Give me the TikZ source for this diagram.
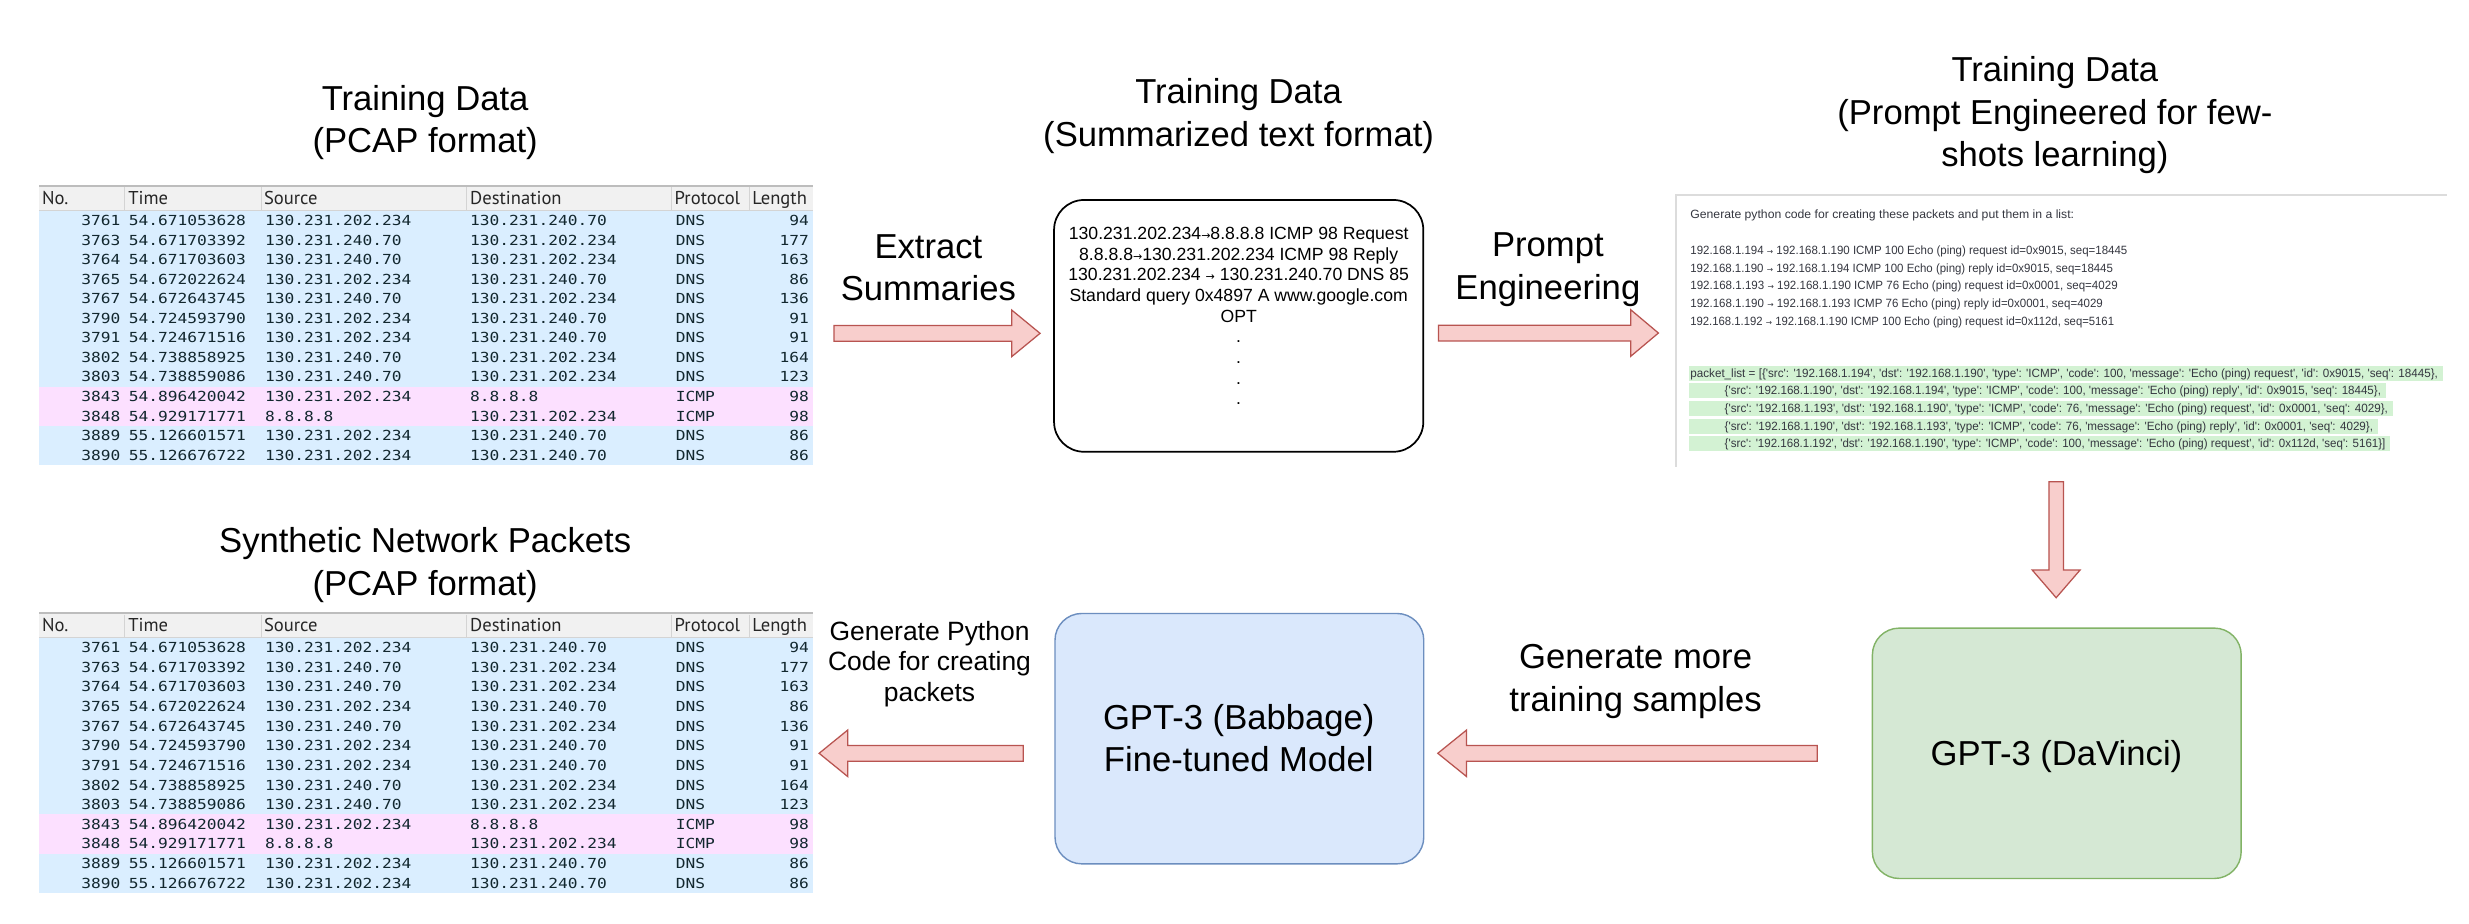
\documentclass[tikz,border=0pt]{standalone}
\usepackage{fontspec}
\usepackage{graphicx}
\setmainfont{Liberation Sans}
\newfontfamily\wsmono[FakeStretch=1.17]{DejaVu Sans Mono}
\newfontfamily\wshead{PT Sans}
\newfontfamily\prfont{Liberation Sans}
\newfontfamily\arrowfont{DejaVu Sans}
\definecolor{dnsbg}{HTML}{DAEEFF}
\definecolor{icmpbg}{HTML}{FCE0FF}
\definecolor{wstext}{HTML}{12272E}
\definecolor{hdrbg}{HTML}{F1F1F1}
\definecolor{hdrline}{HTML}{BDBDBD}
\definecolor{hdrsep}{HTML}{D4D4D4}
\definecolor{arrowfill}{HTML}{F8CECC}
\definecolor{arrowdraw}{HTML}{B85450}
\definecolor{babfill}{HTML}{DAE8FC}
\definecolor{babdraw}{HTML}{6C8EBF}
\definecolor{davfill}{HTML}{D5E8D4}
\definecolor{davdraw}{HTML}{82B366}
\definecolor{prgreen}{HTML}{D3F2D3}
\definecolor{prtext}{HTML}{353740}
\definecolor{prborder}{HTML}{DCDCDC}
\newcommand\arw{{\arrowfont\fontsize{7}{8}\selectfont →}}
\newcommand\parw{{\arrowfont\fontsize{5}{5}\selectfont →}}
\newcommand\fitw[2]{\resizebox{#1pt}{\height}{#2}}
\newcommand\blockarrow[4]{%
  \draw[blk] (#1,#4-5) -- (#2,#4-5) -- (#2,#4-14.8) -- (#3,#4) -- (#2,#4+14.8) -- (#2,#4+5) -- (#1,#4+5) -- cycle;}
\def\wsrows{3761/54.671053628/130.231.202.234/130.231.240.70/DNS/94/dnsbg,
3763/54.671703392/130.231.240.70/130.231.202.234/DNS/177/dnsbg,
3764/54.671703603/130.231.240.70/130.231.202.234/DNS/163/dnsbg,
3765/54.672022624/130.231.202.234/130.231.240.70/DNS/86/dnsbg,
3767/54.672643745/130.231.240.70/130.231.202.234/DNS/136/dnsbg,
3790/54.724593790/130.231.202.234/130.231.240.70/DNS/91/dnsbg,
3791/54.724671516/130.231.202.234/130.231.240.70/DNS/91/dnsbg,
3802/54.738858925/130.231.240.70/130.231.202.234/DNS/164/dnsbg,
3803/54.738859086/130.231.240.70/130.231.202.234/DNS/123/dnsbg,
3843/54.896420042/130.231.202.234/8.8.8.8/ICMP/98/icmpbg,
3848/54.929171771/8.8.8.8/130.231.202.234/ICMP/98/icmpbg,
3889/55.126601571/130.231.202.234/130.231.240.70/DNS/86/dnsbg,
3890/55.126676722/130.231.202.234/130.231.240.70/DNS/86/dnsbg}
\newcommand\wstable[3]{% #1 y offset, #2 name prefix, #3 row height
\begin{scope}[shift={(0,#1)}]
  \fill[hdrbg] (25,0) rectangle (516.5,15.8);
  \draw[hdrline, line width=1.2] (25,0) -- (516.5,0);
  \draw[hdrsep, line width=0.6] (25,15.8) -- (516.5,15.8);
  \foreach \sx in {79,165.8,296,426.4,476}{\draw[hdrsep, line width=0.6] (\sx,1) -- (\sx,15.8);}
  \node[hdr] (#2h1) at (26.5,12) {No.};
  \node[hdr] (#2h2) at (81.3,12) {Time};
  \node[hdr] (#2h3) at (167.5,12) {Source};
  \node[hdr] (#2h4) at (298.4,12) {Destination};
  \node[hdr] (#2h5) at (428.3,12) {Protocol};
  \node[hdr] (#2h6) at (477.6,12) {Length};
  \foreach [count=\i] \xa/\xb/\xc/\xd/\xe/\xf/\xg in \wsrows {
    \pgfmathsetmacro\ry{15.8+(\i-1)*#3}
    \fill[\xg] (25,\ry) rectangle (516.5,\ry+#3);
    \node[cell, anchor=base east] (#2r\i-1) at (76.7,\ry+9.4) {\xa};
    \node[cell, anchor=base west] (#2r\i-2) at (81.6,\ry+9.4) {\xb};
    \node[cell, anchor=base west] (#2r\i-3) at (168.1,\ry+9.4) {\xc};
    \node[cell, anchor=base west] (#2r\i-4) at (298.4,\ry+9.4) {\xd};
    \node[cell, anchor=base west] (#2r\i-5) at (429,\ry+9.4) {\xe};
    \node[cell, anchor=base east] (#2r\i-6) at (513.9,\ry+9.4) {\xf};
  }
\end{scope}}
\begin{document}
\begin{tikzpicture}[x=1pt,y=-1pt,
  big/.style={font=\fontsize{22}{27}\selectfont, align=center, anchor=base, inner sep=0},
  midtxt/.style={font=\fontsize{16.8}{19.5}\selectfont, align=center, anchor=base, inner sep=0},
  sumtext/.style={font=\fontsize{11.2}{13.1}\selectfont, align=center, anchor=base, inner sep=0},
  blk/.style={fill=arrowfill, draw=arrowdraw, line width=0.8},
  cell/.style={font=\wsmono\fontsize{8.8}{10}\selectfont, text=wstext, inner sep=0},
  hdr/.style={font=\wshead\fontsize{11.8}{13}\selectfont, text=black!85, inner sep=0, anchor=base west},
  pr/.style={font=\prfont\fontsize{7.6}{9}\selectfont, text=prtext, inner sep=0, anchor=base west},
  prg/.style={pr, fill=prgreen, text height=6.4, text depth=1.3, inner ysep=0.9, inner xsep=1},
  model/.style={rounded corners=17, line width=0.9, minimum width=234.2, minimum height=159}]
\fill[white] (0,0) rectangle (1568,586.2);
\useasboundingbox (0,0) rectangle (1568,586.2);

% titles (anchor = baseline of the last line)
\node[big] (t1) at (270,97) {Training Data\\(PCAP format)};
\node[big] (t2) at (786.6,93) {Training Data\\(Summarized text format)};
\node[big] (t3) at (1305,106) {Training Data\\(Prompt Engineered for few-\\shots learning)};
\node[big] (t4) at (270,378) {Synthetic Network Packets\\(PCAP format)};

% tables
\wstable{118}{ta}{12.42}
\wstable{389.3}{tb}{12.46}

% summary box
\node[draw=black, line width=1.1, rounded corners=19, minimum width=234.5, minimum height=159.9, inner sep=0] (sumbox) at (786.65,206.95) {};
\node[sumtext] (sumtxt) at (786.65,257) {130.231.202.234\arw8.8.8.8 ICMP 98 Request\\8.8.8.8\arw130.231.202.234 ICMP 98 Reply\\130.231.202.234 \arw\ 130.231.240.70 DNS 85\\Standard query 0x4897 A www.google.com\\OPT\\.\\.\\.\\.};

% labels
\node[big] (l1) at (589.6,191) {Extract\\Summaries};
\node[big] (l2) at (983,190) {Prompt\\Engineering};
\node[big] (l3) at (1038.7,451.6) {Generate more\\training samples};
\node[midtxt] (l4) at (590.3,445.5) {Generate Python\\Code for creating\\packets};

% arrows
\blockarrow{529.7}{642.5}{660.5}{211.7}
\blockarrow{913.5}{1035.6}{1053.2}{211.5}
\blockarrow{1154.1}{931.4}{913.1}{478.4}
\blockarrow{649.8}{538.4}{520.2}{478.4}
\draw[blk] (1301.2,305.9) -- (1310.4,305.9) -- (1310.4,362) -- (1321,362) -- (1305.8,379.6) -- (1290.6,362) -- (1301.2,362) -- cycle;

% prompt screenshot
\draw[prborder, line width=0.8] (1554,123.8) -- (1064.4,123.8) -- (1064.4,296.6);
\node[pr] (p0) at (1073.3,139) {\fitw{243.7}{Generate python code for creating these packets and put them in a list:}};
\node[pr] (p1) at (1073.3,161.7) {\fitw{277.5}{192.168.1.194 \parw\ 192.168.1.190 ICMP 100 Echo (ping) request id=0x9015, seq=18445}};
\node[pr] (p2) at (1073.3,172.9) {\fitw{268.4}{192.168.1.190 \parw\ 192.168.1.194 ICMP 100 Echo (ping) reply id=0x9015, seq=18445}};
\node[pr] (p3) at (1073.3,184.1) {\fitw{271.4}{192.168.1.193 \parw\ 192.168.1.190 ICMP 76 Echo (ping) request id=0x0001, seq=4029}};
\node[pr] (p4) at (1073.3,195.3) {\fitw{262}{192.168.1.190 \parw\ 192.168.1.193 ICMP 76 Echo (ping) reply id=0x0001, seq=4029}};
\node[pr] (p5) at (1073.3,206.5) {\fitw{269.1}{192.168.1.192 \parw\ 192.168.1.190 ICMP 100 Echo (ping) request id=0x112d, seq=5161}};
\node[prg] (g1) at (1072.3,239.6) {\fitw{474.8}{packet\_list = [\{'src': '192.168.1.194', 'dst': '192.168.1.190', 'type': 'ICMP', 'code': 100, 'message': 'Echo (ping) request', 'id': 0x9015, 'seq': 18445\},}\hspace*{2pt}};
\node[prg] (g2) at (1072.3,250.8) {\hspace*{21.8pt}\fitw{416.8}{\{'src': '192.168.1.190', 'dst': '192.168.1.194', 'type': 'ICMP', 'code': 100, 'message': 'Echo (ping) reply', 'id': 0x9015, 'seq': 18445\},}\hspace*{2pt}};
\node[prg] (g3) at (1072.3,262) {\hspace*{21.8pt}\fitw{421.2}{\{'src': '192.168.1.193', 'dst': '192.168.1.190', 'type': 'ICMP', 'code': 76, 'message': 'Echo (ping) request', 'id': 0x0001, 'seq': 4029\},}\hspace*{2pt}};
\node[prg] (g4) at (1072.3,273.2) {\hspace*{21.8pt}\fitw{411.8}{\{'src': '192.168.1.190', 'dst': '192.168.1.193', 'type': 'ICMP', 'code': 76, 'message': 'Echo (ping) reply', 'id': 0x0001, 'seq': 4029\},}\hspace*{2pt}};
\node[prg] (g5) at (1072.3,284.4) {\hspace*{21.8pt}\fitw{419.6}{\{'src': '192.168.1.192', 'dst': '192.168.1.190', 'type': 'ICMP', 'code': 100, 'message': 'Echo (ping) request', 'id': 0x112d, 'seq': 5161\}]}\hspace*{2pt}};

% models
\node[model, fill=davfill, draw=davdraw] (dav) at (1306.2,478.4) {};
\node[big] (davtxt) at (1306,486) {GPT-3 (DaVinci)};
\node[model, fill=babfill, draw=babdraw] (bab) at (787.1,469.1) {};
\node[big] (babtxt) at (786.7,490) {GPT-3 (Babbage)\\Fine-tuned Model};
\end{tikzpicture}
\end{document}
